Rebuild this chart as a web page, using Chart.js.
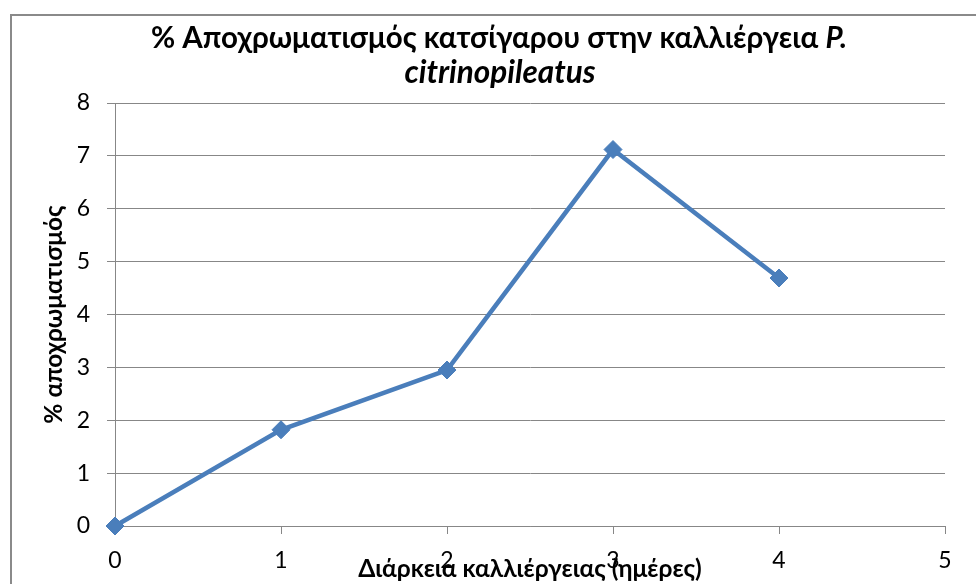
<!DOCTYPE html>
<html>
<head>
<meta charset="utf-8">
<script src="https://cdn.jsdelivr.net/npm/chart.js@4.4.1/dist/chart.umd.min.js"></script>
<style>
  html, body { margin: 0; padding: 0; background: #ffffff; }
  #wrap { width: 976px; height: 584px; position: relative; }
</style>
</head>
<body>
<div id="wrap"><canvas id="chart" width="976" height="584"></canvas></div>
<script>
// Culture duration (days) and measured decolorization (%)
const days = [0, 1, 2, 3, 4];
const decolorization = [0, 1.82, 2.95, 7.12, 4.69];

// Axis ranges / tick steps
const xRange = [0, 5];
const yRange = [0, 8];
const tickStep = 1;

// Text
const titleMain = '% Αποχρωματισμός κατσίγαρου στην καλλιέργεια ';
const titleGenus = 'P.';
const titleSpecies = 'citrinopileatus';
const xTitle = 'Διάρκεια καλλιέργειας (ημέρες)';
const yTitle = '% αποχρωματισμός';

const FONT = 'Lato, "Noto Sans", "Liberation Sans", sans-serif';
const GRID = '#878787';
const SERIES = '#4A7EBB';

// Outer frame and two-line title with italic species name
const frameAndTitle = {
  id: 'frameAndTitle',
  beforeDraw(chart) {
    const ctx = chart.ctx;
    ctx.save();
    ctx.strokeStyle = '#8a8a8a';
    ctx.lineWidth = 2;
    ctx.strokeRect(11, 15, 1000, 700);
    ctx.restore();
  },
  afterDraw(chart) {
    const ctx = chart.ctx;
    const cx = 499;
    ctx.save();
    ctx.fillStyle = '#000';
    ctx.textBaseline = 'alphabetic';
    ctx.textAlign = 'left';
    const upright = 'bold 29.5px ' + FONT;
    const italic = 'italic bold 29.5px ' + FONT;
    ctx.font = upright;
    const w1 = ctx.measureText(titleMain).width;
    ctx.font = italic;
    const w2 = ctx.measureText(titleGenus).width;
    const x = cx - (w1 + w2) / 2;
    ctx.font = upright;
    ctx.fillText(titleMain, x, 48);
    ctx.font = italic;
    ctx.fillText(titleGenus, x + w1, 48);
    ctx.font = 'italic bold 31.5px ' + FONT;
    const w3 = ctx.measureText(titleSpecies).width;
    ctx.fillText(titleSpecies, 500 - w3 / 2, 83);
    ctx.restore();
  }
};

new Chart(document.getElementById('chart'), {
  type: 'scatter',
  data: {
    datasets: [{
      data: days.map((d, i) => ({ x: d, y: decolorization[i] })),
      showLine: true,
      borderColor: SERIES,
      backgroundColor: SERIES,
      borderWidth: 4.5,
      pointStyle: 'rectRot',
      pointRadius: 9,
      pointBorderWidth: 1,
      pointBackgroundColor: SERIES,
      pointBorderColor: SERIES,
      clip: false
    }]
  },
  options: {
    responsive: false,
    animation: false,
    devicePixelRatio: 1,
    layout: { padding: { top: 103, right: 31, bottom: 0, left: 0 } },
    plugins: {
      legend: { display: false },
      tooltip: { enabled: false },
      title: { display: false }
    },
    scales: {
      x: {
        type: 'linear',
        min: xRange[0],
        max: xRange[1],
        afterFit(scale) { scale.height = 58; },
        ticks: {
          stepSize: tickStep,
          color: '#000',
          font: { family: FONT, size: 23 },
          padding: 13,
          maxRotation: 0
        },
        grid: {
          drawOnChartArea: false,
          drawTicks: true,
          tickLength: 8,
          color: GRID,
          tickColor: GRID
        },
        border: { color: GRID, width: 1 },
        title: {
          display: true,
          text: xTitle,
          color: '#000',
          font: { family: FONT, size: 24.5, weight: 'bold' },
          padding: { top: -7, bottom: 0 }
        }
      },
      y: {
        type: 'linear',
        min: yRange[0],
        max: yRange[1],
        afterFit(scale) { scale.width = 115; },
        ticks: {
          stepSize: tickStep,
          color: '#000',
          font: { family: FONT, size: 23 },
          padding: 17
        },
        grid: {
          drawOnChartArea: true,
          drawTicks: true,
          tickLength: 8,
          color: GRID,
          tickColor: GRID
        },
        border: { color: GRID, width: 1 },
        title: {
          display: true,
          text: yTitle,
          color: '#000',
          font: { family: FONT, size: 24.5, weight: 'bold' },
          padding: { top: 39, bottom: 0 }
        }
      }
    }
  },
  plugins: [frameAndTitle]
});
</script>
</body>
</html>
